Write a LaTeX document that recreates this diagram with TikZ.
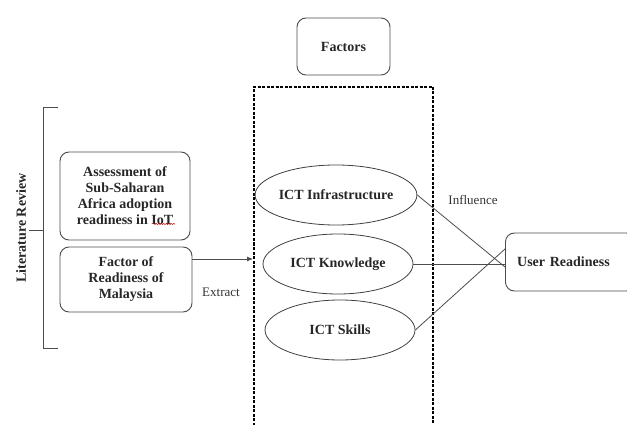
\documentclass[tikz,border=0pt]{standalone}
\usepackage{fontspec}
\setmainfont{Liberation Serif}
\usetikzlibrary{shapes.geometric,arrows.meta,decorations.pathmorphing}
\tikzset{
  txt/.style={font=\bfseries\fontsize{14}{16}\selectfont, text=black!85},
  rbox/.style={draw=black!70, line width=0.9pt, rounded corners=9pt, align=center, txt, inner sep=0pt},
  oval/.style={ellipse, draw=black!75, line width=0.8pt, txt, inner sep=0pt, minimum width=148pt, minimum height=60pt},
  conn/.style={draw=black!70, line width=0.8pt},
  lbl/.style={font=\fontsize{13}{15}\selectfont, text=black!80}
}
\begin{document}
\begin{tikzpicture}[x=1pt,y=-1pt]
\useasboundingbox (0,0) rectangle (627,425);
\clip (0,0) rectangle (627,425);
% Factors
\node[rbox, minimum width=93pt, minimum height=57pt] (fac) at (343.5,46.5) {Factors};
% dashed container
\coordinate (dtl) at (254,87);
\coordinate (dtr) at (433,87);
\coordinate (dbl) at (254,430);
\coordinate (dbr) at (433,430);
\draw[black, line width=1.3pt, dash pattern=on 3pt off 1.5pt] (dbl) -- (dtl) -- (dtr) -- (dbr);
% ellipses
\node[oval] (inf) at (336,195) {ICT Infrastructure};
\node[oval, minimum width=150pt] (kno) at (338,264) {ICT Knowledge};
\node[oval, minimum width=150pt] (ski) at (340,330) {ICT Skills};
% User readiness
\node[rbox, minimum width=130pt, minimum height=58pt, anchor=west, text width=130pt] (ur) at (505,262) {\hspace*{-14pt}User Readiness};
\draw[conn] (inf.east) -- ([yshift=-5pt]ur.west);
\draw[conn] (kno.east) -- (kno.east -| ur.west);
\draw[conn] (ski.east) -- ([yshift=13pt]ur.west);
\node[lbl] (infl) at (473,200) {Influence};
% left boxes
\node[rbox, minimum width=130pt, minimum height=88pt] (b1) at (125,196) {Assessment of\\Sub-Saharan\\Africa adoption\\readiness in IoT};
\draw[red!80!black, line width=0.5pt, decorate, decoration={snake, amplitude=0.6pt, segment length=2.5pt}] (153,224) -- (175,224);
\node[rbox, minimum width=132pt, minimum height=65pt] (b2) at (126,279.5) {Factor of\\Readiness of\\Malaysia};
\coordinate (arrEnd) at (253,259);
\draw[conn, -{Latex[length=6pt,width=5pt]}] (b2.east |- arrEnd) -- (arrEnd);
\node[lbl] (ext) at (221,292) {Extract};
% bracket
\coordinate (brt) at (43,108);
\coordinate (brb) at (43,348);
\coordinate (brm) at (43,230);
\draw[black!70, line width=1pt] ([xshift=15pt]brt) -- (brt) -- (brb) -- ([xshift=15pt]brb);
\draw[black!70, line width=1pt] (brm) -- ++(-14,0) coordinate (brl);
\node[txt, rotate=90] (lit) at (21,228) {Literature Review};
\end{tikzpicture}
\end{document}
